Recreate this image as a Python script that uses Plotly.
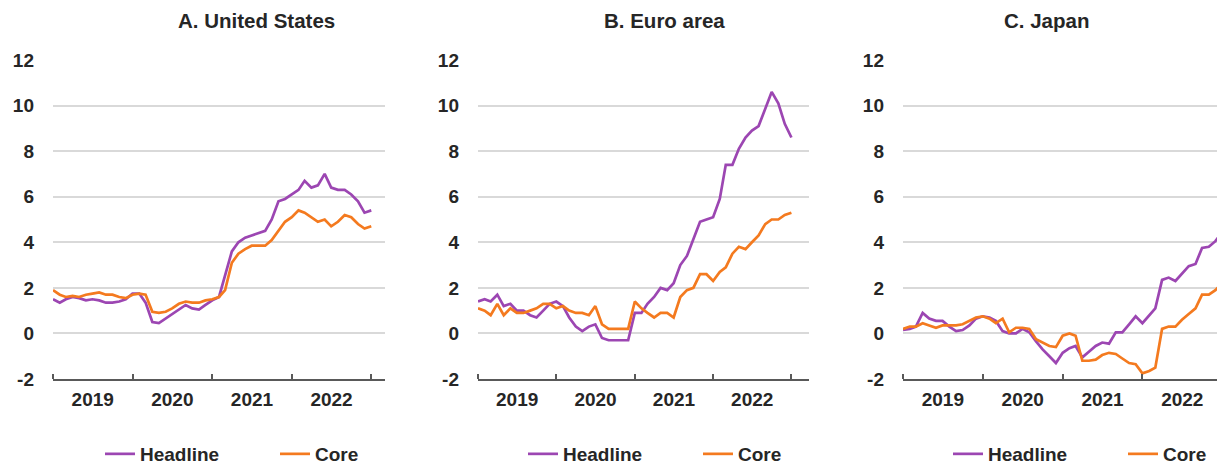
import pandas as pd
import plotly.graph_objects as go

months = pd.date_range("2019-01-01", "2023-01-01", freq="MS")

us_headline = [1.5, 1.35, 1.5, 1.6, 1.55, 1.45, 1.5, 1.45, 1.35, 1.35, 1.4, 1.5,
               1.75, 1.75, 1.35, 0.5, 0.45, 0.65, 0.85, 1.05, 1.25, 1.1, 1.05, 1.25,
               1.45, 1.6, 2.5, 3.6, 4.0, 4.2, 4.3, 4.4, 4.5, 5.0, 5.8, 5.9,
               6.1, 6.3, 6.7, 6.4, 6.5, 7.0, 6.4, 6.3, 6.3, 6.1, 5.8, 5.3, 5.4]
us_core = [1.9, 1.7, 1.6, 1.65, 1.6, 1.7, 1.75, 1.8, 1.7, 1.7, 1.6, 1.55,
           1.7, 1.75, 1.7, 0.95, 0.9, 0.95, 1.1, 1.3, 1.4, 1.35, 1.35, 1.45,
           1.5, 1.6, 1.9, 3.1, 3.5, 3.7, 3.85, 3.85, 3.85, 4.1, 4.5, 4.9,
           5.1, 5.4, 5.3, 5.1, 4.9, 5.0, 4.7, 4.9, 5.2, 5.1, 4.8, 4.6, 4.7]

ea_headline = [1.4, 1.5, 1.4, 1.7, 1.2, 1.3, 1.0, 1.0, 0.8, 0.7, 1.0, 1.3,
               1.4, 1.2, 0.7, 0.3, 0.1, 0.3, 0.4, -0.2, -0.3, -0.3, -0.3, -0.3,
               0.9, 0.9, 1.3, 1.6, 2.0, 1.9, 2.2, 3.0, 3.4, 4.1, 4.9, 5.0,
               5.1, 5.9, 7.4, 7.4, 8.1, 8.6, 8.9, 9.1, 9.9, 10.6, 10.1, 9.2, 8.6]
ea_core = [1.1, 1.0, 0.8, 1.3, 0.8, 1.1, 0.9, 0.9, 1.0, 1.1, 1.3, 1.3,
           1.1, 1.2, 1.0, 0.9, 0.9, 0.8, 1.2, 0.4, 0.2, 0.2, 0.2, 0.2,
           1.4, 1.1, 0.9, 0.7, 0.9, 0.9, 0.7, 1.6, 1.9, 2.0, 2.6, 2.6,
           2.3, 2.7, 2.9, 3.5, 3.8, 3.7, 4.0, 4.3, 4.8, 5.0, 5.0, 5.2, 5.3]

jp_headline = [0.15, 0.2, 0.3, 0.9, 0.65, 0.55, 0.55, 0.3, 0.1, 0.15, 0.35, 0.65,
               0.75, 0.7, 0.55, 0.1, 0.0, 0.0, 0.2, 0.05, -0.35, -0.7, -1.0, -1.3,
               -0.85, -0.65, -0.55, -1.05, -0.8, -0.55, -0.4, -0.45, 0.05, 0.05, 0.4, 0.75,
               0.45, 0.8, 1.1, 2.35, 2.45, 2.3, 2.6, 2.95, 3.05, 3.75, 3.8, 4.05, 4.45]
jp_core = [0.2, 0.3, 0.3, 0.45, 0.35, 0.25, 0.35, 0.35, 0.35, 0.4, 0.55, 0.7,
           0.75, 0.65, 0.45, 0.65, 0.05, 0.25, 0.25, 0.2, -0.25, -0.4, -0.55, -0.6,
           -0.1, 0.0, -0.1, -1.2, -1.2, -1.15, -0.95, -0.85, -0.9, -1.1, -1.3, -1.35,
           -1.75, -1.65, -1.5, 0.2, 0.3, 0.3, 0.6, 0.85, 1.1, 1.7, 1.7, 1.9, 2.2]

panel_titles = ["A. United States", "B. Euro area", "C. Japan"]
series_names = ["Headline", "Core"]
y_ticks = [-2, 0, 2, 4, 6, 8, 10, 12]
y_tick_labels = ["-2", "0", "2", "4", "6", "8", "10", "12"]

PURPLE = "#9C46B2"
ORANGE = "#F47A1F"
TXT = "#262626"
FONT = "Liberation Sans, Arial, sans-serif"

# page body has an 8px margin, so the figure is sized to end at the window edge
OFF = 8
W, H = 1225 - OFF, 465 - OFF
T, B = 60 - OFF, 465 - 379


def px(x):
    return (x - OFF) / W


doms = [(53, 385), (478, 809), (903, 1225)]
xranges = [["2019-01-01", "2023-03-05"], ["2019-01-01", "2023-03-24"], ["2019-01-01", "2023-01-14"]]
title_x = [256, 664, 1046]
legend_x = [[100, 275], [523, 698], [948, 1123]]

fig = go.Figure()
panels = [(us_headline, us_core), (ea_headline, ea_core), (jp_headline, jp_core)]
leg_names = ["legend", "legend2", "legend3", "legend4", "legend5", "legend6"]
k = 0
for i, (hd, cr) in enumerate(panels):
    sfx = "" if i == 0 else str(i + 1)
    for name, vals, col in [(series_names[0], hd, PURPLE), (series_names[1], cr, ORANGE)]:
        fig.add_trace(go.Scatter(
            x=months, y=vals, mode="lines", name=name,
            line=dict(color=col, width=2.7),
            xaxis="x" + sfx, yaxis="y" + sfx,
            legend=leg_names[k], showlegend=True,
        ))
        k += 1

layout = dict(
    width=W, height=H,
    margin=dict(l=0, r=0, t=T, b=B, pad=0, autoexpand=False),
    plot_bgcolor="white", paper_bgcolor="white",
    font=dict(family=FONT, color=TXT),
    showlegend=True,
    annotations=[],
)
ph = H - T - B
ybase = H - B + OFF  # window y of the plot bottom
k = 0
for i in range(3):
    sfx = "" if i == 0 else str(i + 1)
    layout["xaxis" + sfx] = dict(
        domain=[px(doms[i][0]), min(1.0, px(doms[i][1]))],
        anchor="y" + sfx, type="date", range=xranges[i],
        tick0="2019-01-01", dtick="M12", tickformat="%Y", ticklabelmode="period",
        ticks="inside", ticklen=5, tickwidth=2, tickcolor="#595959",
        showline=True, linecolor="#595959", linewidth=2,
        showgrid=False, zeroline=False,
        tickfont=dict(family=FONT, size=19, color=TXT, weight="bold"),
        ticklabelstandoff=2,
    )
    layout["yaxis" + sfx] = dict(
        domain=[0, 1], anchor="x" + sfx, range=[-2, 12],
        tickvals=y_ticks, ticktext=y_tick_labels, ticks="", showline=False,
        showgrid=True, gridcolor="#D9D9D9", gridwidth=2, zeroline=False,
        tickfont=dict(family=FONT, size=19, color=TXT, weight="bold"),
        ticklabelstandoff=18,
    )
    for j in range(2):
        layout[leg_names[k]] = dict(
            orientation="h", x=px(legend_x[i][j]), xanchor="left",
            y=-(454 - ybase) / ph, yanchor="middle",
            font=dict(family=FONT, size=19, color=TXT, weight="bold"),
            bgcolor="rgba(0,0,0,0)", itemwidth=30, visible=True,
        )
        k += 1
    layout["annotations"].append(dict(
        text=panel_titles[i], xref="paper", yref="paper",
        x=px(title_x[i]), y=(ybase - 20) / ph, xanchor="center", yanchor="middle",
        showarrow=False, font=dict(family=FONT, size=20.5, color=TXT, weight="bold"),
    ))

fig.update_layout(**layout)
fig.write_html("out.html")
